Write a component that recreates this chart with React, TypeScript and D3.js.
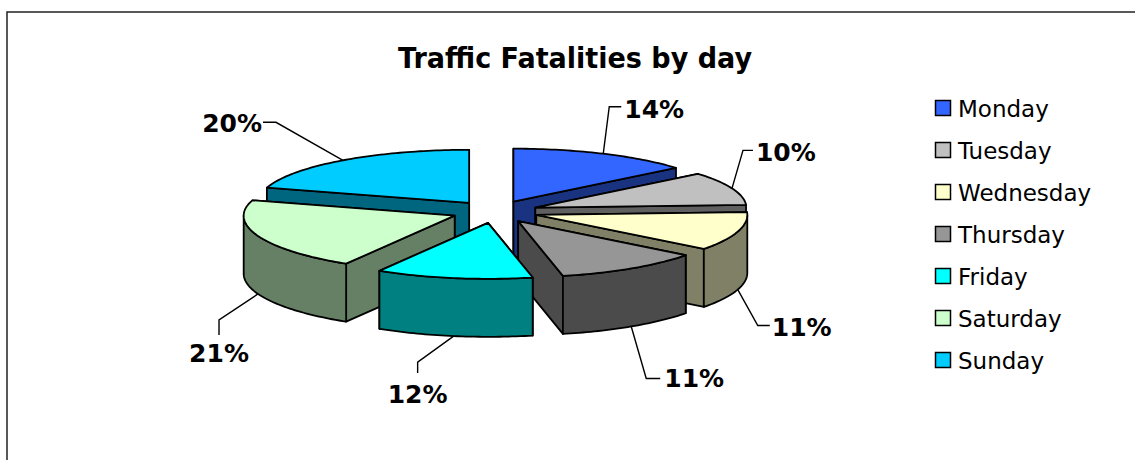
import React from "react";
import * as d3 from "d3";

const days = ["Monday", "Tuesday", "Wednesday", "Thursday", "Friday", "Saturday", "Sunday"];
const shares = [14.0, 10.2, 11.2, 11.2, 12.0, 21.0, 20.4];
const percentLabels = ["14%", "10%", "11%", "11%", "12%", "21%", "20%"];
const topColors = ["#3366ff", "#c0c0c0", "#ffffcc", "#969696", "#00ffff", "#ccffcc", "#00ccff"];
const title = "Traffic Fatalities by day";

const W = 1135, H = 460;
const CX = 495, CY = 211.5, RX = 211, RY = 53, RY_FRONT = 56, DEPTH = 58, EXPLODE = 0.205;
const FONT = "'DejaVu Sans', sans-serif";
// painter's order: back slices first
const drawOrder = [0, 6, 1, 5, 2, 3, 4];
// leader elbow offset from the slice anchor, and label position relative to the elbow
const elbows = [[6, -47], [11, -38], [20, 36], [15, 52], [-36, 26], [-39, 26], [-67, -38]];
const ends = [[12, 0], [10, 0], [12, 0], [14, 0], [0, 11], [0, 15], [-13, 0]];
const labelAt: [number, number, string][] = [[15, 2, "start"], [13, 2, "start"], [14, 1, "start"], [18, 0, "start"], [0, 32, "middle"], [0, 33, "middle"], [-14, 1, "end"]];

const pieGen = d3.pie<number>().sort(null).value((d) => d);
const arcs = pieGen(shares);

const px = d3.scaleLinear().domain([-1, 1]).range([CX - RX, CX + RX]);
const py = d3.scaleLinear().domain([-1, 0, 1]).range([CY - RY, CY, CY + RY_FRONT]);
const half = (c: string) => {
  const r = d3.rgb(c);
  return d3.rgb(r.r / 2, r.g / 2, r.b / 2).formatHex();
};

function App() {
  const rim = (a: number, ox: number, oy: number, r = 1): [number, number] => [
    px(ox + r * Math.sin(a)),
    py(oy - r * Math.cos(a)),
  ];
  const slices = arcs.map((d, i) => {
    const mid = (d.startAngle + d.endAngle) / 2;
    const ox = EXPLODE * Math.sin(mid);
    const oy = -EXPLODE * Math.cos(mid);
    const arcPts = (a0: number, a1: number) => {
      const n = Math.max(2, Math.ceil((a1 - a0) / 0.02));
      return d3.range(n + 1).map((k) => rim(a0 + ((a1 - a0) * k) / n, ox, oy));
    };
    const apex: [number, number] = [px(ox), py(oy)];
    const down = (p: [number, number]): [number, number] => [p[0], p[1] + DEPTH];
    const line = d3.line();
    const top = line([apex, ...arcPts(d.startAngle, d.endAngle)])! + "Z";
    const wall = (a: number) => {
      const c = rim(a, ox, oy);
      return { y: c[1], path: line([apex, c, down(c), down(apex)])! + "Z" };
    };
    const walls = [wall(d.startAngle), wall(d.endAngle)].sort((p, q) => p.y - q.y).map((w) => w.path);
    const a0 = Math.max(d.startAngle, Math.PI / 2);
    const a1 = Math.min(d.endAngle, (3 * Math.PI) / 2);
    let outer = "";
    if (a1 > a0) {
      const pts = arcPts(a0, a1);
      outer = line([...pts, ...pts.slice().reverse().map(down)])! + "Z";
    }
    const onFront = mid > Math.PI / 2 && mid < (3 * Math.PI) / 2;
    const m = rim(mid, ox, oy);
    const anchor: [number, number] = onFront ? down(m) : m;
    return { i, top, walls, outer, anchor };
  });

  return (
    <svg width={W} height={H} style={{ position: "fixed", left: 0, top: 0, background: "#fff" }}>
      <rect x={7} y={12} width={1140} height={460} fill="#fff" stroke="#222" strokeWidth={1.5} />
      <text x={575} y={68} textAnchor="middle" fontFamily={FONT} fontWeight="bold" fontSize={29} textLength={354} lengthAdjust="spacingAndGlyphs">{title}</text>
      {drawOrder.map((idx) => {
        const s = slices[idx];
        const side = half(topColors[idx]);
        return (
          <g key={days[idx]} stroke="#000" strokeWidth={1.8} strokeLinejoin="round">
            {s.walls.map((p, k) => <path key={k} d={p} fill={side} />)}
            {s.outer && <path d={s.outer} fill={side} />}
            <path d={s.top} fill={topColors[idx]} />
          </g>
        );
      })}
      {slices.map((s, i) => {
        const [ax, ay] = s.anchor;
        const ex = ax + elbows[i][0], ey = ay + elbows[i][1];
        const fx = ex + ends[i][0], fy = ey + ends[i][1];
        const l = labelAt[i];
        return (
          <g key={days[i]}>
            <path d={d3.line()([[ax, ay], [ex, ey], [fx, fy]])!} fill="none" stroke="#000" strokeWidth={1.4} />
            <text x={ex + l[0]} y={ey + l[1] + 9} textAnchor={l[2] as any} fontFamily={FONT} fontWeight="bold" fontSize={25}>{percentLabels[i]}</text>
          </g>
        );
      })}
      {days.map((d, i) => (
        <g key={d}>
          <rect x={935.5} y={100.5 + 42 * i} width={15} height={15} fill={topColors[i]} stroke="#000" strokeWidth={1.5} />
          <text x={958} y={117 + 42 * i} fontFamily={FONT} fontSize={23}>{d}</text>
        </g>
      ))}
    </svg>
  );
}

export default App;
